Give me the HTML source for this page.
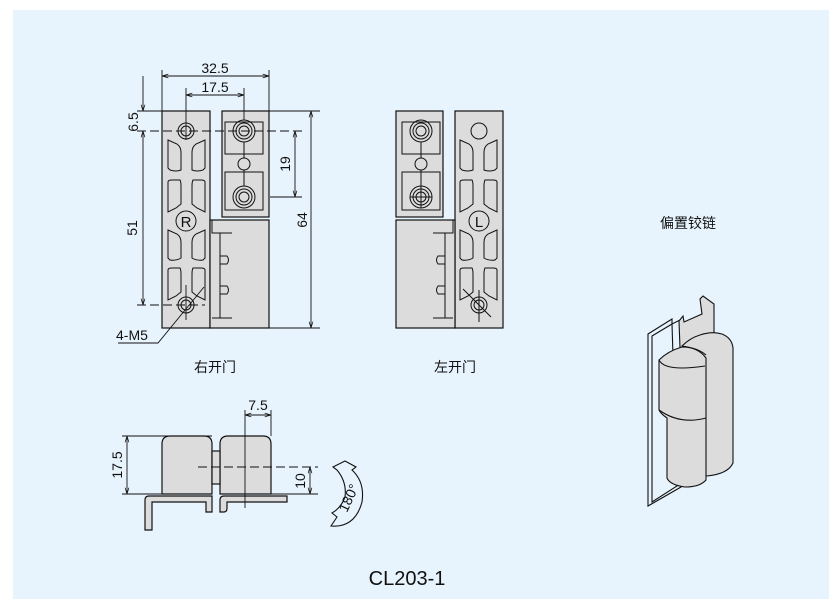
<!DOCTYPE html>
<html><head><meta charset="utf-8"><style>
html,body{margin:0;padding:0;background:#fff;}
svg{display:block;}
text{font-family:"Liberation Sans","Noto Sans CJK SC",sans-serif;fill:#111;}
</style></head><body>
<svg width="838" height="599" viewBox="0 0 838 599" xmlns="http://www.w3.org/2000/svg">
<defs>
<marker id="a" viewBox="0 0 10 10" refX="10" refY="5" markerWidth="7" markerHeight="7" orient="auto-start-reverse"><path d="M0,2 L10,5 L0,8" fill="none" stroke="#111" stroke-width="1.2"/></marker>
<g id="slots" fill="none" stroke="#111" stroke-width="1">
<path d="M168,140 L177,144 Q181,147 181,152 L181,170 Q176,172 170,170 L168,168 Z"/>
<path d="M205,140 L196,144 Q192,147 192,152 L192,170 Q197,172 203,170 L205,168 Z"/>
<path d="M168,182 Q168,180 172,180 L180,180 Q181,182 181,186 L181,204 L176,208 L168,212 Z"/>
<path d="M205,182 Q205,180 201,180 L193,180 Q192,182 192,186 L192,204 L197,208 L205,212 Z"/>
<path d="M168,230 L177,234 Q181,237 181,242 L181,258 Q176,261 170,260 L168,258 Z"/>
<path d="M205,230 L196,234 Q192,237 192,242 L192,258 Q197,261 203,260 L205,258 Z"/>
<path d="M168,270 Q168,268 172,268 L180,268 Q181,270 181,274 L181,292 L176,296 L168,300 Z"/>
<path d="M205,270 Q205,268 201,268 L193,268 Q192,270 192,274 L192,292 L197,296 L205,300 Z"/>
</g>
</defs>
<rect x="13" y="10" width="816" height="589" fill="#e8f4fd"/>
<g stroke="#111" stroke-width="1.2" fill="#dcdcdc">
<rect x="162" y="111" width="48" height="217"/>
<rect x="210" y="220" width="59" height="108"/>
<rect x="222" y="111" width="47" height="106"/>
</g>
<g stroke="#111" stroke-width="1" fill="none">
<rect x="225" y="122" width="38" height="32"/>
<rect x="225" y="172" width="38" height="38"/>
<circle cx="244" cy="131" r="11"/><circle cx="244" cy="131" r="8"/><circle cx="244" cy="131" r="5"/>
<circle cx="244" cy="164" r="6" fill="#dcdcdc"/>
<line x1="244" y1="142" x2="244" y2="158"/><line x1="244" y1="170" x2="244" y2="186"/>
<circle cx="244" cy="197" r="11"/><circle cx="244" cy="197" r="8"/><circle cx="244" cy="197" r="5"/>
<circle cx="186" cy="131" r="8"/><circle cx="186" cy="131" r="5"/>
<circle cx="186" cy="305" r="8"/><circle cx="186" cy="305" r="5"/>
<circle cx="186" cy="221" r="10" fill="#dcdcdc"/>
<use href="#slots"/>
<path d="M212,220 V233 H232 M220,233 V318 M212,318 H232"/>
<path d="M220,256 H227 Q230,260 227,264 H220 M220,286 H227 Q230,290 227,294 H220"/>
</g>
<text x="186" y="227" font-size="15" text-anchor="middle">R</text>
<g stroke="#111" stroke-width="0.9" fill="none">
<line x1="162" y1="70" x2="162" y2="111"/><line x1="269" y1="70" x2="269" y2="111"/>
<line x1="162" y1="76" x2="269" y2="76" marker-start="url(#a)" marker-end="url(#a)"/>
<line x1="186" y1="88" x2="186" y2="140"/><line x1="244" y1="88" x2="244" y2="120"/>
<line x1="186" y1="95" x2="244" y2="95" marker-start="url(#a)" marker-end="url(#a)"/>
<line x1="137" y1="111" x2="162" y2="111"/>
<line x1="269" y1="111" x2="320" y2="111"/><line x1="269" y1="328" x2="320" y2="328"/>
<line x1="137" y1="131" x2="302" y2="131" stroke-dasharray="9,4"/>
<line x1="137" y1="305" x2="205" y2="305" stroke-dasharray="9,4"/>
<line x1="270" y1="197" x2="302" y2="197"/>
<line x1="186" y1="285" x2="186" y2="320"/>
<line x1="143" y1="76" x2="143" y2="111" marker-end="url(#a)"/>
<line x1="143" y1="131" x2="143" y2="305" marker-start="url(#a)" marker-end="url(#a)"/>
<line x1="311" y1="111" x2="311" y2="328" marker-start="url(#a)" marker-end="url(#a)"/>
<line x1="295" y1="131" x2="295" y2="197" marker-start="url(#a)" marker-end="url(#a)"/>
<path d="M118,343 H158 L204,287"/>
</g>
<text x="215" y="73" font-size="14" text-anchor="middle">32.5</text>
<text x="215" y="92" font-size="14" text-anchor="middle">17.5</text>
<text transform="translate(138,122) rotate(-90)" font-size="14" text-anchor="middle">6.5</text>
<text transform="translate(137,228) rotate(-90)" font-size="14" text-anchor="middle">51</text>
<text transform="translate(290,164) rotate(-90)" font-size="14" text-anchor="middle">19</text>
<text transform="translate(307,220) rotate(-90)" font-size="14" text-anchor="middle">64</text>
<text x="116" y="340" font-size="14">4-M5</text>
<text x="215" y="372" font-size="14" text-anchor="middle">右开门</text>

<g transform="translate(665,0) scale(-1,1)">
<g stroke="#111" stroke-width="1.2" fill="#dcdcdc">
<rect x="162" y="111" width="48" height="217"/>
<rect x="210" y="220" width="59" height="108"/>
<rect x="222" y="111" width="47" height="106"/>
</g>
<g stroke="#111" stroke-width="1" fill="none">
<rect x="225" y="122" width="38" height="32"/>
<rect x="225" y="172" width="38" height="38"/>
<circle cx="244" cy="131" r="11"/><circle cx="244" cy="131" r="8"/><circle cx="244" cy="131" r="5"/>
<circle cx="244" cy="164" r="6" fill="#dcdcdc"/>
<line x1="244" y1="142" x2="244" y2="158"/><line x1="244" y1="170" x2="244" y2="186"/>
<circle cx="244" cy="197" r="11"/><circle cx="244" cy="197" r="8"/><circle cx="244" cy="197" r="5"/>
<line x1="233" y1="197" x2="255" y2="197"/><line x1="244" y1="186" x2="244" y2="208"/>
<circle cx="186" cy="131" r="8"/>
<circle cx="186" cy="305" r="8"/><circle cx="186" cy="305" r="5"/>
<circle cx="186" cy="221" r="10" fill="#dcdcdc"/>
<use href="#slots"/>
<path d="M212,220 V233 H232 M220,233 V318 M212,318 H232"/>
<path d="M220,256 H227 Q230,260 227,264 H220 M220,286 H227 Q230,290 227,294 H220"/>
<line x1="186" y1="290" x2="186" y2="322"/><line x1="202" y1="289" x2="174" y2="317"/>
</g>
</g>
<text x="479" y="227" font-size="15" text-anchor="middle">L</text>
<text x="455" y="372" font-size="14" text-anchor="middle">左开门</text>

<g stroke="#111" stroke-width="1.2" fill="#dcdcdc">
<path d="M162,494 V444 Q162,436 170,436 H204 Q212,436 212,444 V494 Z"/>
<path d="M220,494 V444 Q220,436 228,436 H263 Q271,436 271,444 V494 Z"/>
<rect x="212" y="451" width="8" height="33"/>
<path d="M145,530 V500 Q145,496 149,496 H212 V512 H206 V502 H152 V530 Z"/>
<path d="M220,512 V500 Q220,496 224,496 H287 V502 H227 V508 Q227,512 224,512 Z"/>
</g>
<g stroke="#111" stroke-width="0.9" fill="none">
<line x1="198" y1="467" x2="318" y2="467" stroke-dasharray="9,4"/>
<line x1="245" y1="410" x2="245" y2="508"/>
<line x1="271" y1="410" x2="271" y2="436"/>
<line x1="245" y1="415" x2="271" y2="415" marker-start="url(#a)" marker-end="url(#a)"/>
<line x1="122" y1="436" x2="212" y2="436"/><line x1="122" y1="494" x2="162" y2="494"/>
<line x1="271" y1="494" x2="318" y2="494"/>
<line x1="127" y1="436" x2="127" y2="494" marker-start="url(#a)" marker-end="url(#a)"/>
<line x1="310" y1="467" x2="310" y2="494" marker-start="url(#a)" marker-end="url(#a)"/>
<path d="M345,461 L333,467 L337,470 Q347,482 345,497 Q341,508 332,513 L337,517 L331,526 Q355,528 362,502 Q365,482 352,470 L356,467 Z" stroke-width="1.1"/>
</g>
<text x="258" y="410" font-size="14" text-anchor="middle">7.5</text>
<text transform="translate(122,465) rotate(-90)" font-size="14" text-anchor="middle">17.5</text>
<text transform="translate(305,481) rotate(-90)" font-size="14" text-anchor="middle">10</text>
<text transform="translate(353,500) rotate(-65)" font-size="14" text-anchor="middle">180°</text>

<g stroke="#111" stroke-width="1.1">
<path d="M648,334 L672,319 L672,324 L680,320 L681,487 L648,506 Z" fill="#e8f4fd"/>
<path d="M652,336 L672,324 L677,486 L652,502 Z" fill="none"/>
<path d="M679,321 L683,316 L684,322 L702,314 L700,299 L703,296 L714,304 L714,345 L680,348 Z" fill="#dcdcdc"/>
<path d="M682,346 Q690,338 700,335 Q712,331 722,334 Q732,338 733,348 L733,463 Q728,474 707,476 L690,470 Z" fill="#dcdcdc"/>
<path d="M659,360 Q668,351 682,347 Q698,347 706,358 L706,480 Q700,487 685,487 Q670,485 667,478 L667,418 Q661,414 659,410 Z" fill="#dcdcdc"/>
<path d="M659,360 Q665,372 705,366 M659,410 Q680,425 706,418 M682,346 Q698,348 706,355" fill="none"/>
</g>
<text x="688" y="228" font-size="14" text-anchor="middle">偏置铰链</text>

<text x="407" y="585" font-size="20" text-anchor="middle">CL203-1</text>
</svg>
</body></html>
